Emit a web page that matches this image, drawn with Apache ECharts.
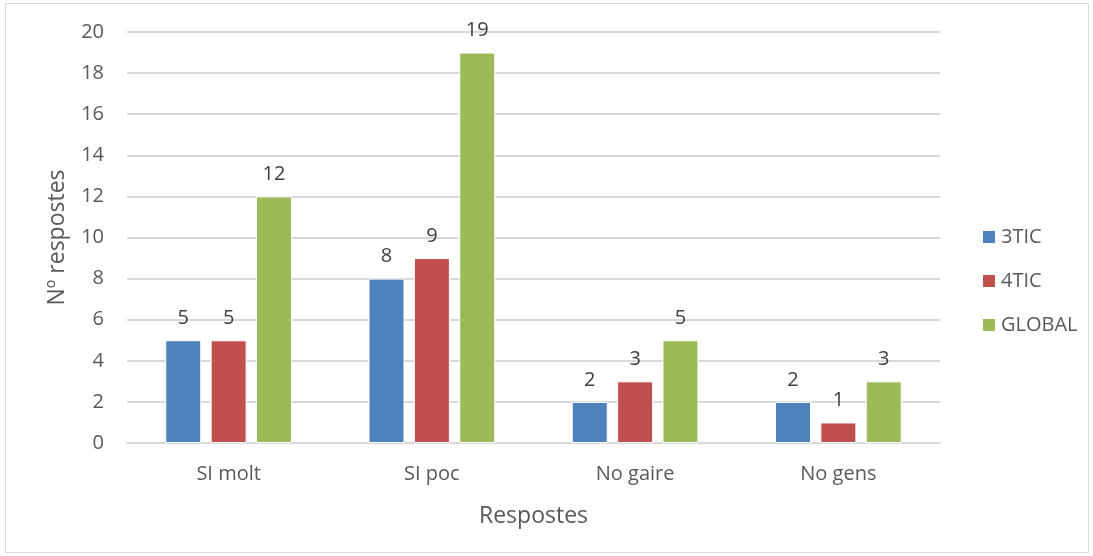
<!DOCTYPE html>
<html><head><meta charset="utf-8">
<script src="https://cdn.jsdelivr.net/npm/echarts@6/dist/echarts.min.js"></script>
<style>html,body{margin:0;padding:0;background:#fff}#c{width:1093px;height:556px}
#frame{position:absolute;left:5px;top:3px;width:1082px;height:548px;border:1px solid #d9d9d9;pointer-events:none}</style>
</head><body><div id="c"></div><div id="frame"></div>
<script>
const categories = ['SI molt', 'SI poc', 'No gaire', 'No gens'];
const s3TIC = [5, 8, 2, 2];
const s4TIC = [5, 9, 3, 1];
const sGLOBAL = [12, 19, 5, 3];
const seriesNames = ['3TIC', '4TIC', 'GLOBAL'];
const colors = ['#4F81BD', '#C0504D', '#9BBB59'];
const FONT = '"Open Sans", "Noto Sans", sans-serif';
const chart = echarts.init(document.getElementById('c'));
const mk = (name, data, i) => ({
  name, type: 'bar', data, barWidth: 36, barGap: '26%',
  itemStyle: { color: colors[i], borderColor: '#fff', borderWidth: 1 },
  label: { show: true, position: 'top', distance: 12, color: '#404040', fontSize: 20, fontFamily: FONT }
});
chart.setOption({
  animation: false,
  textStyle: { fontFamily: FONT },
  grid: { left: 127, right: 153, top: 32, bottom: 113 },
  legend: {
    orient: 'vertical', left: 976, top: 222, itemGap: 24, itemWidth: 14, itemHeight: 14,
    icon: 'rect', textStyle: { fontSize: 20, color: '#595959', fontFamily: FONT },
    data: seriesNames
  },
  xAxis: {
    type: 'category', data: categories,
    name: 'Respostes', nameLocation: 'middle', nameGap: 62,
    nameTextStyle: { fontSize: 23, color: '#595959' },
    axisLine: { lineStyle: { color: '#d9d9d9', width: 2 } },
    axisTick: { show: false },
    axisLabel: { fontSize: 20, color: '#595959', margin: 21 }
  },
  yAxis: {
    type: 'value', min: 0, max: 20, interval: 2,
    name: 'Nº respostes', nameLocation: 'middle', nameGap: 58,
    nameTextStyle: { fontSize: 23, color: '#595959' },
    axisLine: { show: false }, axisTick: { show: false },
    axisLabel: { fontSize: 20, color: '#595959', margin: 23 },
    splitLine: { lineStyle: { color: '#d9d9d9', width: 2 } }
  },
  series: [mk(seriesNames[0], s3TIC, 0), mk(seriesNames[1], s4TIC, 1), mk(seriesNames[2], sGLOBAL, 2)]
});
</script></body></html>
